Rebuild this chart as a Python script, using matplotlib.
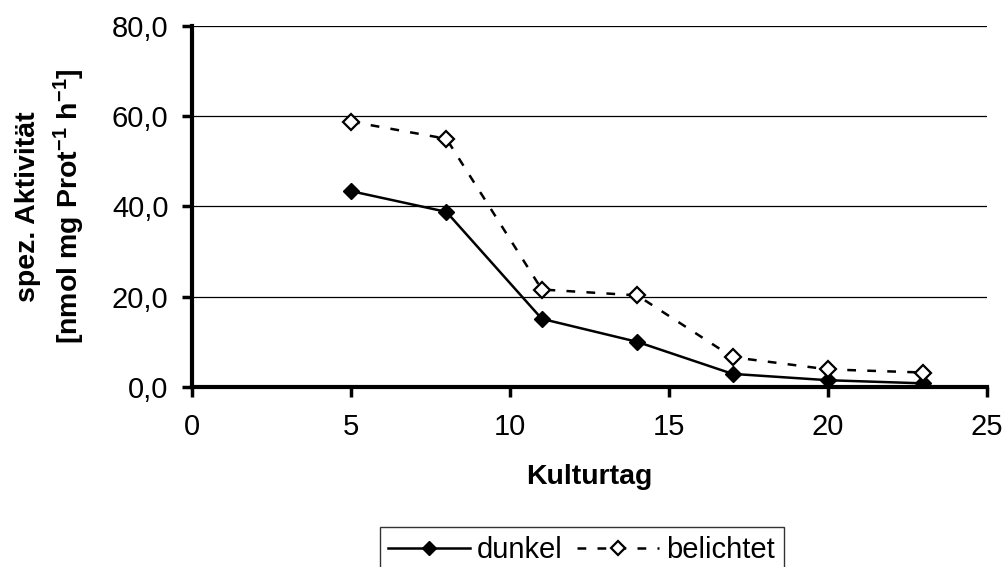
"""Spezifische Aktivitaet dunkel vs. belichtet ueber Kulturtage."""

import matplotlib
matplotlib.use('Agg')
import matplotlib.pyplot as plt
from matplotlib.ticker import FuncFormatter

plt.rcParams['font.family'] = ['Liberation Sans', 'DejaVu Sans']
plt.rcParams['mathtext.fontset'] = 'custom'
plt.rcParams['mathtext.rm'] = 'Liberation Sans:bold'
plt.rcParams['mathtext.default'] = 'rm'

kulturtag = [5, 8, 11, 14, 17, 20, 23]
dunkel = [43.4, 38.8, 15.1, 10.0, 2.9, 1.5, 0.8]
belichtet = [58.8, 55.0, 21.6, 20.3, 6.6, 3.9, 3.2]

y_ticks = [0, 20, 40, 60, 80]
x_ticks = [0, 5, 10, 15, 20, 25]


def main():
    fig = plt.figure(figsize=(10.08, 5.67), dpi=100)
    ax = fig.add_axes([0.1905, 0.3175, 0.7887, 0.6367])

    ax.plot(kulturtag, dunkel, color='black', lw=1.8, marker='D', ms=8,
            mfc='black', mec='black', label='dunkel', zorder=3)
    ax.plot(kulturtag, belichtet, color='black', lw=1.8, ls=(0, (3.5, 4.5)),
            marker='D', ms=8, mfc='white', mec='black', mew=1.6,
            label='belichtet', zorder=3)

    ax.set_xlim(0, 25)
    ax.set_ylim(0, 80)
    ax.set_xticks(x_ticks)
    ax.set_yticks(y_ticks)
    ax.yaxis.set_major_formatter(
        FuncFormatter(lambda v, p: '{:.1f}'.format(v).replace('.', ',')))
    for v in y_ticks[1:]:
        ax.axhline(v, color='black', lw=0.9, zorder=1)

    for s in ('top', 'right'):
        ax.spines[s].set_visible(False)
    for s in ('left', 'bottom'):
        ax.spines[s].set_linewidth(3)
    ax.tick_params(axis='both', direction='out', length=7, width=2.5,
                   labelsize=21)
    ax.tick_params(axis='x', pad=12)
    ax.tick_params(axis='y', pad=10)

    ax.set_xlabel('Kulturtag', fontsize=20.5, fontweight='bold', labelpad=16)
    ax.set_ylabel('spez. Aktivität\n[nmol mg Prot$^{-1}$ h$^{-1}$]',
                  fontsize=20.5, fontweight='bold', labelpad=18,
                  linespacing=1.4)

    leg = fig.legend(loc='upper center', bbox_to_anchor=(0.577, 0.0705),
                     ncol=2, fontsize=21, frameon=True, fancybox=False,
                     handlelength=2.8, columnspacing=0.5, handletextpad=0.24,
                     borderpad=0.3, borderaxespad=0)
    leg.get_frame().set_edgecolor('black')
    leg.get_frame().set_linewidth(1)
    for h in leg.legend_handles:
        h.set_markersize(7)

    fig.savefig('out.png', dpi=100)


if __name__ == '__main__':
    main()
